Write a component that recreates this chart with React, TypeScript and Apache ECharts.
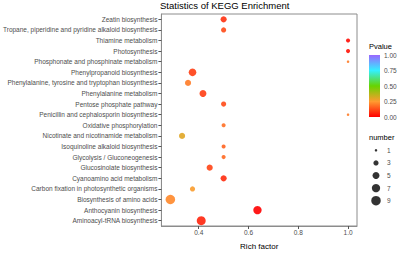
import React, { useEffect, useRef } from "react";
import * as echarts from "echarts";

const categories = [
  "Zeatin biosynthesis",
  "Tropane, piperidine and pyridine alkaloid biosynthesis",
  "Thiamine metabolism",
  "Photosynthesis",
  "Phosphonate and phosphinate metabolism",
  "Phenylpropanoid biosynthesis",
  "Phenylalanine, tyrosine and tryptophan biosynthesis",
  "Phenylalanine metabolism",
  "Pentose phosphate pathway",
  "Penicillin and cephalosporin biosynthesis",
  "Oxidative phosphorylation",
  "Nicotinate and nicotinamide metabolism",
  "Isoquinoline alkaloid biosynthesis",
  "Glycolysis / Gluconeogenesis",
  "Glucosinolate biosynthesis",
  "Cyanoamino acid metabolism",
  "Carbon fixation in photosynthetic organisms",
  "Biosynthesis of amino acids",
  "Anthocyanin biosynthesis",
  "Aminoacyl-tRNA biosynthesis",
];
const richFactor = [0.5, 0.5, 1.0, 1.0, 1.0, 0.375, 0.357, 0.417, 0.5, 1.0, 0.5, 0.333, 0.5, 0.5, 0.444, 0.5, 0.375, 0.286, 0.636, 0.41];
const geneNumber = [4, 3, 2, 2, 1, 6, 4, 5, 3, 1, 2, 4, 2, 2, 4, 4, 3, 9, 7, 8];
const pValue = [0.08, 0.12, 0.02, 0.03, 0.2, 0.1, 0.2, 0.1, 0.12, 0.2, 0.18, 0.3, 0.16, 0.17, 0.11, 0.07, 0.26, 0.22, 0.0, 0.06];
const xTicks = [0.4, 0.6, 0.8, 1.0];
const numberLegend = [1, 3, 5, 7, 9];

const FONT = "'Liberation Sans', Arial, sans-serif";
const TXT = "#4d4d4d";
const sizeOf = (n: number) => Math.sqrt(Math.max(1, -4.2 + 10.47 * n));
const rampColors = ["#ff0000", "#ff9a30", "#66d400", "#33f0ff", "#9966ff"];

export default function App() {
  const ref = useRef<HTMLDivElement>(null);
  useEffect(() => {
    if (!ref.current) return;
    const chart = echarts.init(ref.current, undefined, { renderer: "svg" });
    const points = categories.map((c, i) => [richFactor[i], c, geneNumber[i], pValue[i]]);
    const gradient = new echarts.graphic.LinearGradient(0, 0, 0, 1, [
      { offset: 0, color: rampColors[4] },
      { offset: 0.25, color: rampColors[3] },
      { offset: 0.5, color: rampColors[2] },
      { offset: 0.75, color: rampColors[1] },
      { offset: 1, color: rampColors[0] },
    ]);
    chart.setOption({
      animation: false,
      backgroundColor: "#fff",
      textStyle: { fontFamily: FONT },
      title: [
        { text: "Statistics of KEGG Enrichment", left: 160, top: 0, padding: 0, textStyle: { fontSize: 9.5, lineHeight: 11, fontWeight: "normal", color: "#000", fontFamily: FONT } },
        { text: "Pvalue", left: 369, top: 42, padding: 0, textStyle: { fontSize: 7.5, lineHeight: 9, fontWeight: "normal", color: "#000", fontFamily: FONT } },
        { text: "number", left: 369, top: 133, padding: 0, textStyle: { fontSize: 7.5, lineHeight: 9, fontWeight: "normal", color: "#000", fontFamily: FONT } },
      ],
      grid: [
        { left: 160, top: 14, width: 197, height: 221, show: true, borderColor: "#8c8c8c", borderWidth: 1, containLabel: false },
        { left: 369, top: 55, width: 11, height: 62, containLabel: false },
        { left: 370, top: 144, width: 12, height: 63, containLabel: false },
      ],
      visualMap: {
        show: false,
        type: "continuous",
        min: 0,
        max: 1,
        dimension: 3,
        seriesIndex: 0,
        inRange: { color: rampColors },
      },
      xAxis: [
        {
          gridIndex: 0,
          type: "value",
          min: 0.25,
          max: 1.036,
          name: "Rich factor",
          nameLocation: "middle",
          nameGap: 16,
          nameTextStyle: { fontSize: 8, color: "#000", fontFamily: FONT },
          splitLine: { show: false },
          axisLine: { show: true, lineStyle: { color: "#8c8c8c" } },
          axisTick: { show: true, length: 3, customValues: xTicks, lineStyle: { color: "#555" } },
          axisLabel: { fontSize: 6.5, color: TXT, margin: 3, customValues: xTicks, formatter: (v: number) => v.toFixed(1) },
        },
        { gridIndex: 1, type: "category", data: ["p"], show: false },
        { gridIndex: 2, type: "value", min: 0, max: 1, show: false },
      ],
      yAxis: [
        {
          gridIndex: 0,
          type: "category",
          data: categories,
          inverse: true,
          axisLine: { show: true, lineStyle: { color: "#8c8c8c" } },
          axisTick: { show: true, length: 3, alignWithLabel: true, lineStyle: { color: "#555" } },
          axisLabel: { fontSize: 6.5, color: TXT, margin: 4, interval: 0 },
          splitLine: { show: false },
        },
        {
          gridIndex: 1,
          type: "value",
          min: 0,
          max: 1,
          interval: 0.25,
          position: "right",
          splitLine: { show: false },
          axisLine: { show: false },
          axisTick: { show: true, inside: true, length: 2, lineStyle: { color: "#fff" } },
          axisLabel: { fontSize: 6.5, color: TXT, margin: 4, formatter: (v: number) => v.toFixed(2) },
        },
        {
          gridIndex: 2,
          type: "category",
          data: numberLegend.map(String),
          inverse: true,
          position: "right",
          axisLine: { show: false },
          axisTick: { show: false },
          axisLabel: { fontSize: 6.5, color: TXT, margin: 5 },
        },
      ],
      series: [
        {
          type: "scatter",
          xAxisIndex: 0,
          yAxisIndex: 0,
          data: points,
          symbolSize: (v: any[]) => sizeOf(v[2]),
          itemStyle: { opacity: 0.9 },
        },
        {
          type: "bar",
          xAxisIndex: 1,
          yAxisIndex: 1,
          data: [1],
          barWidth: "100%",
          itemStyle: { color: gradient },
          silent: true,
        },
        {
          type: "scatter",
          xAxisIndex: 2,
          yAxisIndex: 2,
          data: numberLegend.map((n) => [0.5, String(n), n]),
          symbolSize: (v: any[]) => sizeOf(v[2]),
          itemStyle: { color: "#000" },
          silent: true,
        },
      ],
    });
    return () => chart.dispose();
  }, []);
  return <div ref={ref} style={{ position: "absolute", left: 0, top: 0, width: 400, height: 255 }} />;
}
